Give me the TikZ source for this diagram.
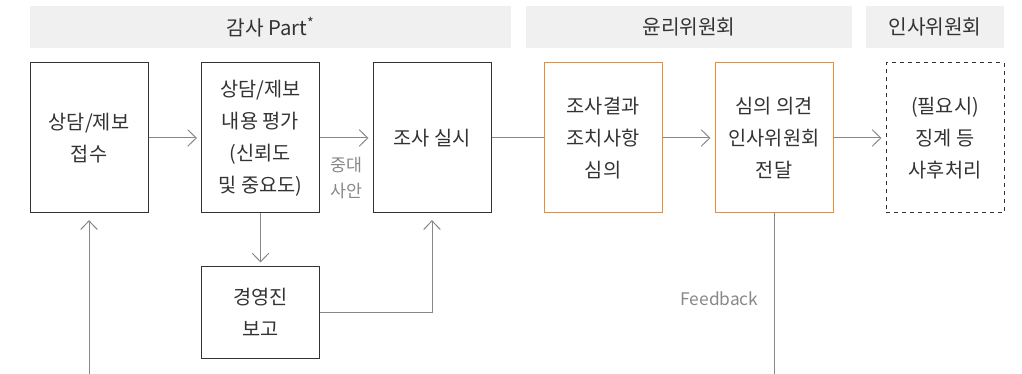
\documentclass[tikz,border=0pt]{standalone}
\usepackage{fontspec}
\setmainfont{Noto Sans CJK KR}
\usepackage{xcolor}
\definecolor{ethInk}   {RGB}{ 51,  51,  51}
\definecolor{ethLine}  {RGB}{136, 136, 136}
\definecolor{ethBar}   {RGB}{240, 240, 240}
\definecolor{ethOrange}{RGB}{240, 138,  48}
\usetikzlibrary{
  arrows.meta,
  positioning,
  calc,
}

\begin{document}
\begin{tikzpicture}[
  x=0.75pt, y=-0.75pt,
  >={Straight Barb[length=6.5pt, width=12.5pt]},
  bar/.style    ={fill=ethBar, draw=none, minimum height=31.5pt,
                  inner sep=0pt, text=ethInk,
                  font=\fontsize{15.2}{18}\selectfont},
  stepbox/.style={draw=ethInk, line width=0.75pt, minimum width=88.5pt,
                  minimum height=112.5pt, align=center, inner sep=0pt,
                  text=ethInk, font=\fontsize{14.8}{24}\selectfont},
  ethbox/.style ={stepbox, draw=ethOrange},
  hrbox/.style  ={stepbox, dashed},
  flow/.style   ={->, line width=0.75pt, color=ethLine, shorten >=3pt},
  link/.style   ={line width=0.75pt, color=ethLine},
  note/.style   ={text=ethLine, align=center,
                  font=\fontsize{13}{19.5}\selectfont},
]
  \useasboundingbox (0,0) rectangle (1022,374);

  % Header bars
  \node[bar, minimum width=360.75pt] (audit) at (270.5,27) {감사 Part\textsuperscript{*}};
  \node[bar, minimum width=244.5pt]  (ethic) at (689,27)   {윤리위원회};
  \node[bar, minimum width=103.5pt]  (hr)    at (935,27)   {인사위원회};

  % Main row
  \node[stepbox] (recv)   at (89,138)    {상담/제보\\접수};
  \node[stepbox] (assess) at (260.5,138) {상담/제보\\내용 평가\\(신뢰도\\및 중요도)};
  \node[stepbox] (probe)  at (432,138)   {조사 실시};
  \node[ethbox]  (review) at (603,138)   {조사결과\\조치사항\\심의};
  \node[ethbox]  (relay)  at (774,138)   {심의 의견\\인사위원회\\전달};
  \node[hrbox]   (action) at (945,138)   {(필요시)\\징계 등\\사후처리};

  % Management report below the assessment
  \node[stepbox, minimum height=68.25pt] (mgmt) at (260.5,312.5) {경영진\\보고};

  % Loose ends at the bottom edge
  \coordinate (inlet) at (89,374);
  \coordinate (fback) at (774,374);

  \draw[flow] (recv) -- (assess);
  \draw[flow] (assess) -- (probe) node[note, midway, below=11pt] {중대\\사안};
  \draw[link] (probe) -- (review);
  \draw[flow] (review) -- (relay);
  \draw[flow] (relay) -- (action);
  \draw[flow] (assess) -- (mgmt);
  \draw[flow, shorten >=5pt] (mgmt.east) -| (probe.south);
  \draw[flow, shorten >=5pt] (inlet) -- (recv.south);
  \draw[link] (relay.south) -- (fback)
    node[note, pos=0.53, left=8pt, font=\fontsize{13}{15}\selectfont] {Feedback};

\end{tikzpicture}
\end{document}
